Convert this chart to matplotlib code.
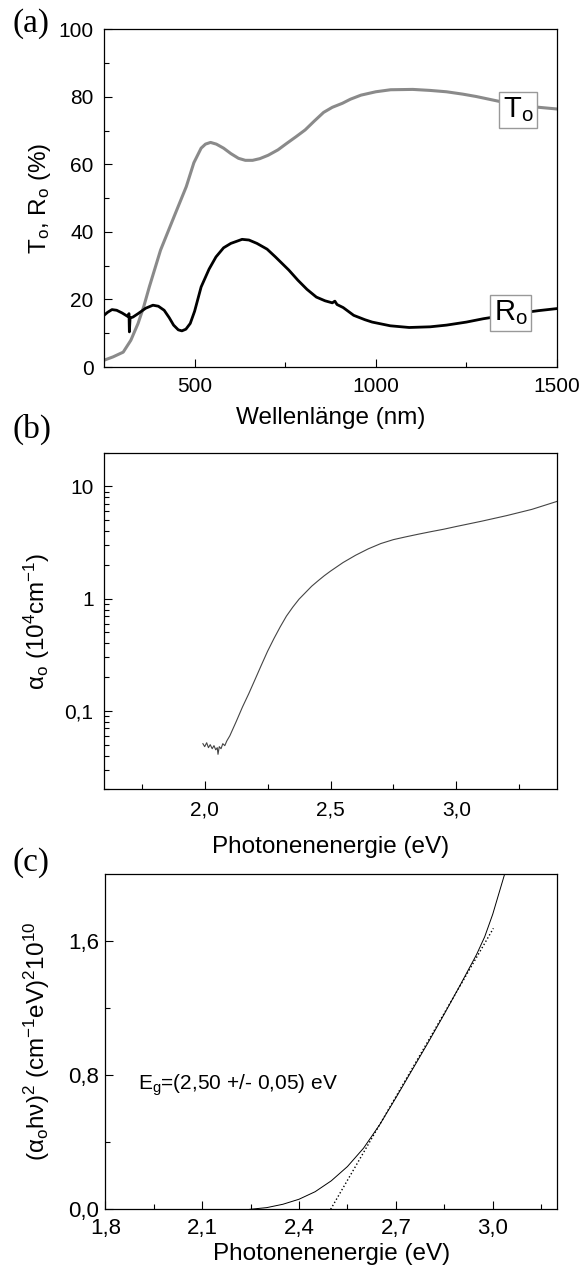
import numpy as np
import matplotlib
matplotlib.use("Agg")
import matplotlib.pyplot as plt

plt.rcParams['font.family'] = ['Liberation Sans', 'DejaVu Sans']
plt.rcParams['mathtext.fontset'] = 'custom'
plt.rcParams['mathtext.rm'] = 'Liberation Sans'
plt.rcParams['mathtext.it'] = 'Liberation Sans'
plt.rcParams['mathtext.bf'] = 'Liberation Sans:bold'

# (a) transmission / reflection vs wavelength
wl_T = [250, 275, 303, 324, 344, 360, 375, 406, 447, 477, 498, 518, 530, 544, 560, 580, 600,
        621, 640, 660, 680, 703, 730, 754, 780, 805, 830, 856, 880, 908, 930, 959, 1000, 1041,
        1102, 1150, 1195, 1240, 1277, 1343, 1390, 1440, 1500]
T_o = [2.0, 3.0, 4.4, 7.9, 12.9, 18.0, 23.7, 34.6, 45.5, 53.4, 60.5, 64.8, 66.0, 66.5, 66.0,
       64.8, 63.2, 61.8, 61.2, 61.2, 61.7, 62.7, 64.3, 66.2, 68.2, 70.2, 72.8, 75.4, 76.9, 78.1,
       79.3, 80.5, 81.5, 82.1, 82.2, 81.9, 81.5, 80.8, 80.1, 78.6, 77.8, 77.0, 76.4]

wl_R = [250, 260, 272, 285, 300, 315, 319, 320, 322, 330, 344, 365, 385, 400, 416, 430, 442,
        455, 465, 476, 488, 500, 518, 540, 559, 580, 600, 631, 650, 672, 700, 723, 760, 785,
        810, 836, 860, 880, 887, 893, 910, 939, 970, 990, 1040, 1092, 1150, 1195, 1250, 1297,
        1350, 1400, 1450, 1500]
R_o = [15.3, 16.2, 17.0, 16.8, 16.0, 15.0, 15.8, 10.4, 14.5, 14.8, 15.8, 17.4, 18.3, 18.0, 16.8,
       14.6, 12.4, 11.0, 10.7, 11.2, 12.9, 16.5, 23.7, 29.0, 32.6, 35.3, 36.6, 37.8, 37.6, 36.6,
       34.9, 32.6, 28.7, 25.7, 23.0, 20.7, 19.6, 19.0, 19.5, 18.5, 17.6, 15.3, 14.0, 13.3, 12.2,
       11.7, 11.9, 12.4, 13.3, 14.3, 15.2, 16.0, 16.7, 17.3]

# (b) absorption coefficient (10^4 cm^-1) vs photon energy
E_b = [1.993, 2.000, 2.008, 2.015, 2.022, 2.030, 2.037, 2.044, 2.050, 2.053, 2.058, 2.065,
       2.072, 2.080, 2.088, 2.100, 2.125, 2.150, 2.175, 2.200, 2.225, 2.250, 2.275, 2.300,
       2.325, 2.350, 2.375, 2.400, 2.425, 2.450, 2.475, 2.500, 2.550, 2.600, 2.650, 2.700,
       2.750, 2.800, 2.850, 2.900, 2.950, 3.000, 3.100, 3.200, 3.300, 3.399]
alpha_b = [0.051, 0.048, 0.052, 0.047, 0.050, 0.046, 0.049, 0.045, 0.047, 0.041, 0.048, 0.046,
           0.051, 0.049, 0.054, 0.060, 0.080, 0.108, 0.142, 0.190, 0.255, 0.340, 0.440, 0.560,
           0.700, 0.840, 0.990, 1.13, 1.29, 1.44, 1.60, 1.76, 2.10, 2.44, 2.78, 3.10,
           3.36, 3.56, 3.76, 3.96, 4.16, 4.40, 4.90, 5.50, 6.25, 7.35]

# (c) (alpha h nu)^2 vs photon energy, with linear fit
E_c = [2.248, 2.30, 2.35, 2.40, 2.45, 2.50, 2.55, 2.60, 2.65, 2.70, 2.75, 2.80, 2.85, 2.90,
       2.95, 2.975, 3.00, 3.02, 3.037]
ahv2 = [0.0, 0.010, 0.030, 0.060, 0.105, 0.170, 0.255, 0.365, 0.505, 0.665, 0.830, 0.995,
        1.165, 1.340, 1.520, 1.625, 1.760, 1.890, 2.0]
fit_E = [2.498, 3.002]
fit_v = [0.0, 1.676]
Eg_text = "E$_\\mathrm{g}$=(2,50 +/- 0,05) eV"

fig = plt.figure(figsize=(5.84, 12.74), dpi=100)
W, H = 584.0, 1274.0


def make_ax(l, t, r, b):
    return fig.add_axes([l / W, 1 - b / H, (r - l) / W, (b - t) / H])


def style(ax, ypad=7.5, xpad=7, size=15):
    for s in ax.spines.values():
        s.set_linewidth(0.9)
    ax.tick_params(which='both', direction='in', top=False, right=False, labelsize=size)
    ax.tick_params(which='major', length=6, width=0.8)
    ax.tick_params(which='minor', length=3.5, width=0.8)
    ax.tick_params(axis='y', pad=ypad)
    ax.tick_params(axis='x', pad=xpad)


# ---- (a)
ax1 = make_ax(104, 29.3, 557, 367)
ax1.plot(wl_T, T_o, color='#8a8a8a', lw=2.2)
ax1.plot(wl_R, R_o, color='black', lw=2.0)
ax1.set_xlim(250, 1500)
ax1.set_ylim(0, 100)
ax1.set_xticks([500, 1000, 1500])
ax1.set_xticks([750, 1250], minor=True)
ax1.set_yticks([0, 20, 40, 60, 80, 100])
ax1.set_yticks([10, 30, 50, 70, 90], minor=True)
style(ax1)
ax1.set_xlabel("Wellenlänge (nm)", fontsize=17.5)
ax1.xaxis.set_label_coords(0.5, -0.152)
ax1.xaxis.label.set_va('center')
ax1.set_ylabel("T$_\\mathrm{o}$, R$_\\mathrm{o}$ (%)", fontsize=17.5)
ax1.yaxis.set_label_coords(-0.141, 0.5)
ax1.yaxis.label.set_va('center')
box = dict(boxstyle='square,pad=0.12', fc='white', ec='#999999', lw=1)
ax1.text(1392, 76.2, "T$_\\mathrm{o}$", fontsize=21, ha='center', va='center', bbox=box)
ax1.text(1372, 16.0, "R$_\\mathrm{o}$", fontsize=21, ha='center', va='center', bbox=box)

# ---- (b)
ax2 = make_ax(104, 452.7, 557, 789.3)
ax2.semilogy(E_b, alpha_b, color='#444444', lw=0.8)
ax2.set_xlim(1.6, 3.4)
ax2.set_ylim(0.02, 20)
ax2.set_xticks([2.0, 2.5, 3.0])
ax2.set_xticklabels(["2,0", "2,5", "3,0"])
ax2.set_xticks([1.75, 2.25, 2.75, 3.25], minor=True)
ax2.set_yticks([0.1, 1, 10])
ax2.set_yticklabels(["0,1", "1", "10"])
style(ax2, xpad=8)
ax2.set_xlabel("Photonenenergie (eV)", fontsize=17.5)
ax2.xaxis.set_label_coords(0.5, -0.17)
ax2.xaxis.label.set_va('center')
ax2.set_ylabel("α$_\\mathrm{o}$ (10$^4$cm$^{-1}$)", fontsize=17.5)
ax2.yaxis.set_label_coords(-0.148, 0.5)
ax2.yaxis.label.set_va('center')

# ---- (c)
ax3 = make_ax(105.3, 874, 557.3, 1209.3)
ax3.plot(E_c, ahv2, color='black', lw=0.7)
ax3.plot(fit_E, fit_v, color='black', lw=1.0, ls=':')
ax3.set_xlim(1.8, 3.2)
ax3.set_ylim(0, 2.0)
ax3.set_xticks([1.8, 2.1, 2.4, 2.7, 3.0])
ax3.set_xticklabels(["1,8", "2,1", "2,4", "2,7", "3,0"])
ax3.set_xticks([1.95, 2.25, 2.55, 2.85, 3.15], minor=True)
ax3.set_yticks([0.0, 0.8, 1.6])
ax3.set_yticklabels(["0,0", "0,8", "1,6"])
ax3.set_yticks([0.4, 1.2], minor=True)
style(ax3, ypad=4.5, xpad=6, size=16)
ax3.set_xlabel("Photonenenergie (eV)", fontsize=17.5)
ax3.xaxis.set_label_coords(0.5, -0.134)
ax3.xaxis.label.set_va('center')
ax3.set_ylabel("(α$_\\mathrm{o}$hν)$^2$ (cm$^{-1}$eV)$^2$10$^{10}$", fontsize=17.5)
ax3.yaxis.set_label_coords(-0.151, 0.5)
ax3.yaxis.label.set_va('center')
ax3.text(1.9, 0.74, Eg_text, fontsize=15, ha='left', va='center')

# panel letters
for lab, yc in [("(a)", 24), ("(b)", 429), ("(c)", 863)]:
    fig.text(12 / W, 1 - yc / H, lab, fontsize=24, family='Liberation Serif',
             ha='left', va='center')

fig.savefig("out.png", dpi=100)
